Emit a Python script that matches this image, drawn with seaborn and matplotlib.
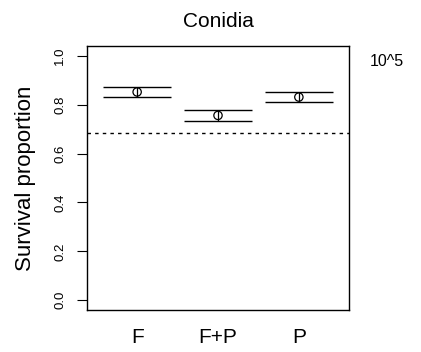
import matplotlib
matplotlib.use("Agg")
import matplotlib.pyplot as plt
import seaborn as sns
import numpy as np
import pandas as pd

categories = ["F", "F+P", "P"]
estimate = [0.852, 0.756, 0.831]
upper = [0.873, 0.778, 0.851]
lower = [0.831, 0.735, 0.810]
reference_line = 0.683
yticks = [0.0, 0.2, 0.4, 0.6, 0.8, 1.0]
title = "Conidia"
ylabel = "Survival proportion"
note = "10^5"

sns.set_theme(style="white")
plt.rcParams['font.family'] = ['Liberation Sans', 'DejaVu Sans']
plt.rcParams['text.color'] = 'black'
plt.rcParams['axes.labelcolor'] = 'black'
plt.rcParams['xtick.color'] = 'black'
plt.rcParams['ytick.color'] = 'black'

df = pd.DataFrame({"group": categories, "est": estimate, "lo": lower, "hi": upper})

fig = plt.figure(figsize=(4.21, 3.52), dpi=100)
ax = fig.add_axes([87/421, 1-310/352, (349-87)/421, (310-46)/352])

sns.scatterplot(data=df, x="group", y="est", ax=ax, marker="o", s=36,
                facecolors="none", edgecolor="black", linewidth=0.9, zorder=3)
pos = np.arange(len(categories))
ax.hlines(df["hi"], pos - 0.42, pos + 0.42, color="black", linewidth=1.0)
ax.hlines(df["lo"], pos - 0.42, pos + 0.42, color="black", linewidth=1.0)
ax.vlines(pos, df["lo"], df["hi"], color="black", linewidth=0.9)
ax.axhline(reference_line, color="black", linestyle=(0, (2.5, 3)), linewidth=1.0)

ax.set_xlim(-0.62, 2.62)
ax.set_ylim(-0.04, 1.04)
ax.set_xticks(pos)
ax.set_xticklabels(categories, fontsize=15, color="black")
ax.set_yticks(yticks)
ax.set_yticklabels([f"{v:.1f}" for v in yticks], rotation=90, va="center", fontsize=9.5, color="black")
ax.tick_params(axis="y", left=True, length=7, width=0.8, color="black", pad=8)
ax.tick_params(axis="x", bottom=False, pad=7)
ax.set_xlabel("")
ax.set_ylabel(ylabel, fontsize=16, labelpad=13, color="black")
ax.set_title(title, fontsize=15, pad=14, color="black")
for s in ax.spines.values():
    s.set_color("black")
    s.set_linewidth(1.0)
fig.text(387/421, 1-62/352, note, fontsize=11.5, ha="center", va="center", color="black")

fig.savefig("out.png", dpi=100)
